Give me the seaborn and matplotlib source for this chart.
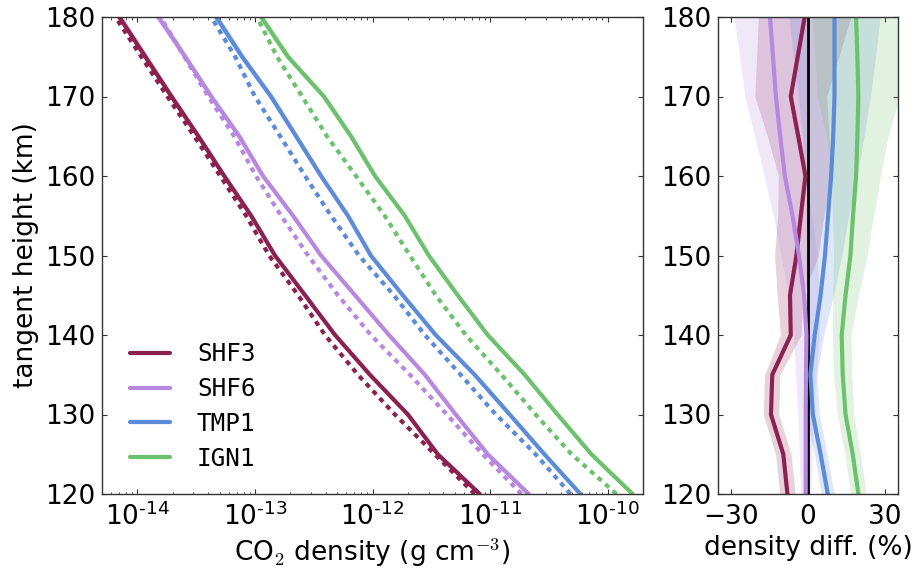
import numpy as np
import pandas as pd
import matplotlib
matplotlib.use("Agg")
import matplotlib.pyplot as plt
from matplotlib.lines import Line2D
import seaborn as sns

# ---------------- data ----------------
heights = [120, 125, 130, 135, 140, 145, 150, 155, 160, 165, 170, 175, 180]
series = ["SHF3", "SHF6", "TMP1", "IGN1"]
colors = ["#8a2150", "#b888e0", "#5b8bd9", "#6cc26c"]

# CO2 density (g cm^-3), solid = retrieved, dashed = model
shf3_solid = [8.17e-12, 3.59e-12, 2.00e-12, 9.51e-13, 4.80e-13, 2.67e-13, 1.48e-13,
              9.29e-14, 5.48e-14, 3.30e-14, 1.95e-14, 1.17e-14, 7.03e-15]
shf3_dash = [7.40e-12, 3.39e-12, 1.55e-12, 7.52e-13, 3.94e-13, 2.33e-13, 1.32e-13,
             8.41e-14, 5.07e-14, 3.05e-14, 1.80e-14, 1.08e-14, 6.50e-15]
shf6_solid = [2.13e-11, 9.55e-12, 5.11e-12, 2.79e-12, 1.38e-12, 7.10e-13, 3.65e-13,
              2.11e-13, 1.17e-13, 7.35e-14, 4.25e-14, 2.55e-14, 1.51e-14]
shf6_dash = [1.85e-11, 8.65e-12, 4.29e-12, 2.08e-12, 9.68e-13, 5.08e-13, 2.83e-13,
             1.67e-13, 1.02e-13, 6.65e-14, 4.01e-14, 2.51e-14, 1.57e-14]
tmp1_solid = [5.87e-11, 2.90e-11, 1.47e-11, 7.40e-12, 3.45e-12, 1.81e-12, 9.68e-13,
              6.18e-13, 3.65e-13, 2.24e-13, 1.37e-13, 7.78e-14, 4.69e-14]
tmp1_dash = [4.83e-11, 2.44e-11, 1.12e-11, 5.62e-12, 2.79e-12, 1.52e-12, 7.67e-13,
             4.44e-13, 2.67e-13, 1.64e-13, 1.00e-13, 6.79e-14, 4.25e-14]
ign1_solid = [1.63e-10, 7.28e-11, 3.75e-11, 1.97e-11, 9.55e-12, 5.31e-12, 3.01e-12,
              1.88e-12, 1.05e-12, 6.56e-13, 3.86e-13, 1.91e-13, 1.13e-13]
ign1_dash = [1.19e-10, 4.93e-11, 2.44e-11, 1.25e-11, 6.21e-12, 3.45e-12, 2.08e-12,
             1.27e-12, 7.23e-13, 4.10e-13, 2.52e-13, 1.54e-13, 1.04e-13]
# relative uncertainty (%) of the retrieved density
dens_band_pct = [1.5, 1.5, 1.5, 1.5, 2.0, 2.5, 3.0, 4.0, 4.5, 5.0, 5.5, 6.0, 6.5]

# density difference (%) and its spread
shf3_diff = [-8.0, -9.6, -14.4, -13.9, -6.7, -7.0, -4.5, -2.8, -1.0, -3.8, -6.7, -4.0, -1.3]
shf6_diff = [-0.9, -0.9, -0.9, -0.8, -0.6, -1.5, -3.5, -6.0, -9.0, -10.8, -12.5, -13.6, -14.8]
tmp1_diff = [7.7, 4.9, 1.9, 0.9, 2.6, 4.9, 6.6, 7.8, 9.0, 9.8, 10.3, 10.3, 10.3]
ign1_diff = [19.6, 17.4, 14.6, 13.5, 13.1, 14.6, 16.5, 17.5, 18.7, 19.2, 19.6, 19.2, 18.7]
shf3_spread = [3, 3, 3, 3, 4, 5, 8.5, 9, 10.5, 12, 14, 16, 18]
shf6_spread = [2, 2.5, 3, 4, 5, 6, 7, 7.5, 8, 10, 12, 13, 14]
tmp1_spread = [2.5, 2.5, 2.5, 2.5, 3.5, 5, 6.5, 8, 10, 12, 14, 16, 17.7]
ign1_spread = [3, 3, 3.2, 3.5, 3.6, 5, 6.5, 8, 9.5, 12, 16, 16.5, 17]

xtick_values = [1e-14, 1e-13, 1e-12, 1e-11, 1e-10]
xtick_labels = [r"$\mathdefault{10^{‐14}}$", r"$\mathdefault{10^{‐13}}$",
                r"$\mathdefault{10^{‐12}}$", r"$\mathdefault{10^{‐11}}$",
                r"$\mathdefault{10^{‐10}}$"]

solids = [shf3_solid, shf6_solid, tmp1_solid, ign1_solid]
dashes = [shf3_dash, shf6_dash, tmp1_dash, ign1_dash]
diffs = [shf3_diff, shf6_diff, tmp1_diff, ign1_diff]
spreads = [shf3_spread, shf6_spread, tmp1_spread, ign1_spread]

# ---------------- style ----------------
sns.set_style("ticks")
plt.rcParams.update({
    "font.family": ["DejaVu Sans"],
    "mathtext.fontset": "cm",
    "text.color": "black",
    "axes.labelcolor": "black",
    "axes.edgecolor": "#333333",
    "axes.linewidth": 1.0,
    "xtick.direction": "in",
    "ytick.direction": "in",
    "xtick.top": True,
    "ytick.right": True,
    "xtick.major.size": 3.5,
    "ytick.major.size": 3.5,
    "xtick.minor.size": 1.8,
    "ytick.minor.size": 1.8,
    "xtick.color": "#333333",
    "ytick.color": "#333333",
    "xtick.labelcolor": "black",
    "ytick.labelcolor": "black",
})

fig = plt.figure(figsize=(9.22, 5.71), dpi=100)
W, H = 922, 571
ax1 = fig.add_axes([102 / W, (H - 494) / H, (643 - 102) / W, (494 - 17) / H])
ax2 = fig.add_axes([718 / W, (H - 494) / H, (898 - 718) / W, (494 - 17) / H])

h = np.array(heights)
solid_df = pd.DataFrame({
    "height": np.tile(h, 4),
    "density": np.concatenate(solids),
    "series": np.repeat(series, len(h)),
})
dash_df = pd.DataFrame({
    "height": np.tile(h, 4),
    "density": np.concatenate(dashes),
    "series": np.repeat(series, len(h)),
})
diff_df = pd.DataFrame({
    "height": np.tile(h, 4),
    "diff": np.concatenate(diffs),
    "series": np.repeat(series, len(h)),
})
pal = dict(zip(series, colors))

# ----- left panel -----
band = np.array(dens_band_pct) / 100.0
for s, c in zip(solids, colors):
    s = np.array(s)
    ax1.fill_betweenx(h, s * (1 - band), s * (1 + band), color=c, alpha=0.25, lw=0)
sns.lineplot(data=solid_df, x="density", y="height", hue="series", palette=pal,
             orient="y", estimator=None, sort=False, lw=3, legend=False, ax=ax1)
sns.lineplot(data=dash_df, x="density", y="height", hue="series", palette=pal,
             orient="y", estimator=None, sort=False, lw=3, legend=False, ax=ax1,
             linestyle=(0, (1.2, 1.2)))
ax1.set_xscale("log")
ax1.set_xlim(5e-15, 2e-10)
ax1.set_ylim(120, 180)
ax1.set_yticks(range(120, 181, 10))
ax1.set_xticks(xtick_values)
ax1.set_xticklabels(xtick_labels)
ax1.tick_params(axis="both", which="major", labelsize=19)
ax1.tick_params(axis="x", which="major", pad=6)
ax1.tick_params(axis="y", which="major", pad=5)
ax1.set_xlabel(r"CO$_2$ density (g cm$^{-3}$)", fontsize=19)
ax1.set_ylabel("tangent height (km)", fontsize=19)

handles = [Line2D([], [], color=c, lw=3) for c in colors]
ax1.legend(handles, series, loc="lower left", bbox_to_anchor=(0.034, 0.028),
           borderaxespad=0, frameon=False, handlelength=1.65, handletextpad=1.1,
           labelspacing=0.45, prop={"family": "DejaVu Sans Mono", "size": 17.5})

# ----- right panel -----
for d, sp, c in zip(diffs, spreads, colors):
    d = np.array(d)
    sp = np.array(sp)
    ax2.fill_betweenx(h, d - sp, d + sp, color=c, alpha=0.2, lw=0)
ax2.axvline(0, color="black", lw=2, zorder=1.5)
sns.lineplot(data=diff_df, x="diff", y="height", hue="series", palette=pal,
             orient="y", estimator=None, sort=False, lw=3, legend=False, ax=ax2)
ax2.set_xlim(-35, 35)
ax2.set_ylim(120, 180)
ax2.set_xticks([-30, 0, 30])
ax2.set_yticks(range(120, 181, 10))
ax2.tick_params(axis="both", which="major", labelsize=19)
ax2.tick_params(axis="x", which="major", pad=7)
ax2.tick_params(axis="y", which="major", pad=5)
ax2.set_xlabel("density diff. (%)", fontsize=19)
ax2.set_ylabel("")

fig.savefig("out.png", dpi=100)
